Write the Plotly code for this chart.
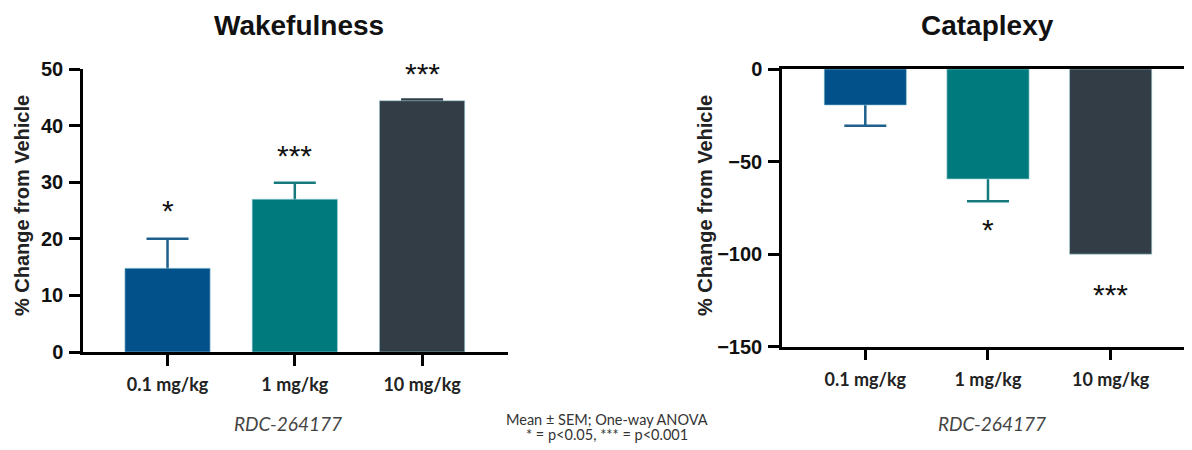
import plotly.graph_objects as go

# ---------------- data ----------------
doses = ["0.1 mg/kg", "1 mg/kg", "10 mg/kg"]
bar_colors = ["#02518a", "#007a7c", "#323d46"]
err_colors = ["#1e5f8e", "#16797c", "#323d46"]

wake_mean = [14.8, 27.0, 44.4]
wake_sem = [5.2, 2.9, 0.2]
wake_sig = ["*", "***", "***"]
wake_sig_y = [25.6, 35.2, 49.8]

cata_mean = [-19.5, -59.4, -100.0]
cata_sem = [11.1, 12.1, 0.0]
cata_sig = ["", "*", "***"]
cata_sig_y = [-85.0, -85.2, -120.3]

wake_ticks = [0, 10, 20, 30, 40, 50]
cata_ticks = [0, -50, -100, -150]

BOLD = "Liberation Sans"
CAL = "Lato"
OFF = 8  # page body margin of the browser
W, H = 1192 - OFF, 450 - OFF


def px(x):
    return (x - OFF) / W


def py(y):
    return 1 - (y - OFF) / H


fig = go.Figure()

# error bars drawn first (transparent bars), then the coloured bars on top
for xa, ya, mean, sem in [("x", "y", wake_mean, wake_sem), ("x2", "y2", cata_mean, cata_sem)]:
    for d, m, s, c in zip(doses, mean, sem, err_colors):
        if s <= 0:
            continue
        fig.add_trace(go.Bar(
            x=[d], y=[m], width=0.67,
            marker=dict(color="rgba(0,0,0,0)", line=dict(width=0)),
            error_y=dict(type="data", array=[s], symmetric=True,
                         color=c, thickness=2.5, width=21),
            xaxis=xa, yaxis=ya, showlegend=False, hoverinfo="skip",
        ))
    fig.add_trace(go.Bar(
        x=doses, y=mean, width=0.67,
        marker=dict(color=bar_colors, line=dict(color="rgba(160,210,220,0.6)", width=1)),
        xaxis=xa, yaxis=ya, showlegend=False,
    ))

axis_common = dict(showline=True, linecolor="black", linewidth=2.5, ticks="outside",
                   tickcolor="black", tickwidth=2.5, ticklen=11, showgrid=False,
                   zeroline=False, automargin=False)

xfont = dict(family=CAL, size=18, color="#222", weight="bold")
yfont = dict(family=BOLD, size=20, color="#111", weight="bold")

fig.update_layout(
    template="none",
    width=W, height=H,
    margin=dict(l=0, r=0, t=0, b=0, autoexpand=False),
    paper_bgcolor="white", plot_bgcolor="white",
    barmode="overlay",
    xaxis=dict(domain=[px(83), px(508)], range=[-0.664, 2.675], type="category",
               tickfont=xfont, ticklabelstandoff=4, anchor="y", **axis_common),
    yaxis=dict(domain=[py(352), py(69)], range=[0, 50], tickvals=wake_ticks,
               tickfont=yfont, ticklabelstandoff=2, anchor="x", **axis_common),
    xaxis2=dict(domain=[px(782), 1.0], range=[-0.679, 2.663], type="category",
                tickfont=xfont, ticklabelstandoff=4, anchor="y2", mirror=True, **axis_common),
    yaxis2=dict(domain=[py(346.7), py(69)], range=[-150, 0], tickvals=cata_ticks,
                tickfont=yfont, ticklabelstandoff=2, anchor="x2", **axis_common),
)

# titles
for text, xp in [("Wakefulness", 299), ("Cataplexy", 987)]:
    fig.add_annotation(text=text, x=px(xp), y=1.0, xref="paper", yref="paper",
                       showarrow=False, font=dict(family=BOLD, size=28, color="#111", weight="bold"),
                       xanchor="center", yanchor="top")
# y titles
for xp in [22, 705]:
    fig.add_annotation(text="% Change from Vehicle", x=px(xp), y=py(206),
                       xref="paper", yref="paper", showarrow=False, textangle=-90,
                       font=dict(family=BOLD, size=20, color="#222", weight="bold"),
                       xanchor="center", yanchor="middle")
# compound names
for xp in [288, 992]:
    fig.add_annotation(text="<i>RDC-264177</i>", x=px(xp), y=py(423),
                       xref="paper", yref="paper", showarrow=False,
                       font=dict(family=CAL, size=19, color="#444"),
                       xanchor="center", yanchor="middle")
# footnote
for text, yp in [("Mean ± SEM; One-way ANOVA", 419), ("* = p<0.05, *** = p<0.001", 434)]:
    fig.add_annotation(text=text, x=px(607), y=py(yp), xref="paper", yref="paper",
                       showarrow=False, font=dict(family=CAL, size=14.5, color="#333"),
                       xanchor="center", yanchor="middle")
# significance
for xa, ya, sigs, sigy in [("x", "y", wake_sig, wake_sig_y), ("x2", "y2", cata_sig, cata_sig_y)]:
    for d, s, yv in zip(doses, sigs, sigy):
        if s:
            fig.add_annotation(text=s, x=d, y=yv, xref=xa, yref=ya, showarrow=False,
                               font=dict(family=BOLD, size=30, color="#111"), yshift=-3)

fig.write_html("out.html")
